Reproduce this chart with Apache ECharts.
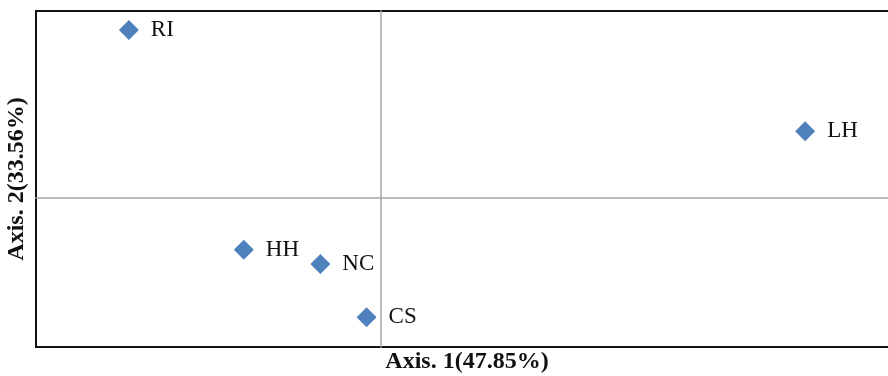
<!DOCTYPE html>
<html>
<head>
<meta charset="utf-8">
<script src="https://cdn.jsdelivr.net/npm/echarts@6/dist/echarts.min.js"></script>
<style>
  html, body { margin: 0; padding: 0; background: #fff; overflow: hidden; }
  #chart { width: 900px; height: 376px; }
</style>
</head>
<body>
<div id="chart"></div>
<script>
// Site ordination scores on the first two axes
const sites = ['RI', 'LH', 'HH', 'NC', 'CS'];
const axis1Scores = [-1.096, 1.846, -0.596, -0.263, -0.062];
const axis2Scores = [1.122, 0.445, -0.349, -0.445, -0.800];

const axis1Title = 'Axis. 1(47.85%)';
const axis2Title = 'Axis. 2(33.56%)';

const serif = '"Liberation Serif", "Times New Roman", serif';

const points = sites.map((name, i) => ({ name, value: [axis1Scores[i], axis2Scores[i]] }));

const chart = echarts.init(document.getElementById('chart'));
chart.setOption({
  animation: false,
  backgroundColor: '#fff',
  grid: {
    left: 36, top: 11, right: 2, bottom: 29,
    show: true, borderColor: '#111', borderWidth: 2, backgroundColor: 'transparent'
  },
  xAxis: {
    type: 'value', min: -1.5, max: 2.25,
    axisLine: { show: true, onZero: true, lineStyle: { color: '#a6a6a6', width: 1.5 } },
    axisTick: { show: false }, axisLabel: { show: false }, splitLine: { show: false }
  },
  yAxis: {
    type: 'value', min: -1.0, max: 1.25,
    axisLine: { show: true, onZero: true, lineStyle: { color: '#a6a6a6', width: 1.5 } },
    axisTick: { show: false }, axisLabel: { show: false }, splitLine: { show: false }
  },
  series: [{
    type: 'scatter',
    data: points,
    symbol: 'diamond',
    symbolSize: 20,
    itemStyle: { color: '#4f81bd', opacity: 1 },
    label: {
      show: true, position: 'right', distance: 12,
      formatter: p => p.name,
      fontFamily: serif, fontSize: 23, color: '#111'
    }
  }],
  graphic: [
    {
      type: 'text', x: 467, y: 350,
      style: { text: axis1Title, font: 'bold 24px ' + serif, fill: '#111', align: 'center', verticalAlign: 'top' }
    },
    {
      type: 'text', x: 5, y: 179, rotation: Math.PI / 2,
      style: { text: axis2Title, font: 'bold 24px ' + serif, fill: '#111', align: 'center', verticalAlign: 'top' }
    }
  ]
});
</script>
</body>
</html>
